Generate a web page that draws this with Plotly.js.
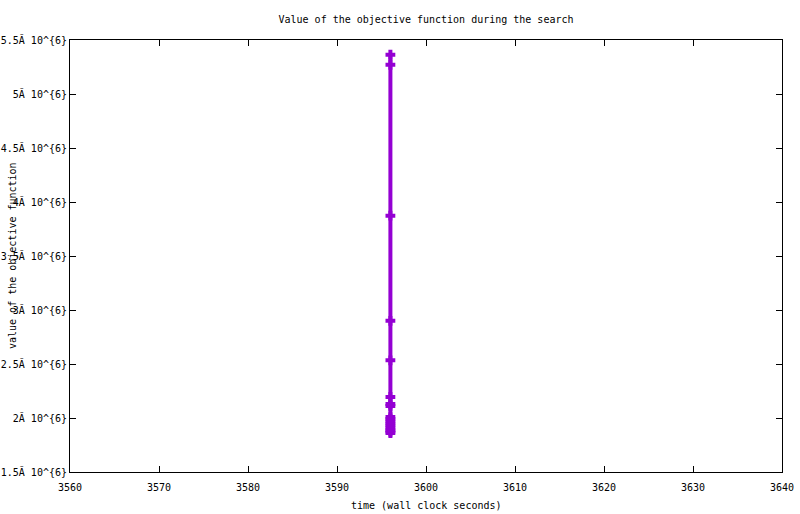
<!DOCTYPE html>
<html>
<head>
<meta charset="utf-8">
<script src="https://cdn.plot.ly/plotly-3.0.1.min.js"></script>
<style>
    body { margin: 0; background: #fff; }
    #chart { width: 800px; height: 514px; }
</style>
</head>
<body>
<div id="chart"></div>
<script>
// wall clock time of each improvement (s)
const times = [3596.0, 3596.0, 3596.0, 3596.0, 3596.0, 3596.0, 3596.0, 3596.0,
    3596.0, 3596.0, 3596.0, 3596.0, 3596.0, 3596.0, 3596.0, 3596.0, 3596.0];
// objective value at that time
const objective = [5364000, 5271000, 3873000, 2900000, 2534000, 2195000, 2130000, 2112000,
    2009000, 1990000, 1970000, 1950000, 1930000, 1910000, 1890000, 1875000, 1861000];

const yTickVals = [1500000, 2000000, 2500000, 3000000, 3500000, 4000000, 4500000, 5000000, 5500000];
const yTickText = ['1.5Ă 10^{6}', '2Ă 10^{6}', '2.5Ă 10^{6}', '3Ă 10^{6}', '3.5Ă 10^{6}',
    '4Ă 10^{6}', '4.5Ă 10^{6}', '5Ă 10^{6}', '5.5Ă 10^{6}'];
const xTickVals = [3560, 3570, 3580, 3590, 3600, 3610, 3620, 3630, 3640];

const font = { family: 'DejaVu Sans Mono, monospace', size: 10, color: '#000' };

window.onload = () => {
    const trace = {
        x: times,
        y: objective,
        type: 'scatter',
        mode: 'lines+markers',
        line: { color: '#9400d3', width: 4 },
        marker: {
            symbol: 'cross-thin',
            size: 7,
            color: '#9400d3',
            line: { color: '#9400d3', width: 4 }
        },
        showlegend: false,
        hoverinfo: 'x+y'
    };

    const axisStyle = {
        showline: true,
        linecolor: '#000',
        linewidth: 1,
        mirror: 'allticks',
        ticks: 'inside',
        ticklen: 6,
        tickcolor: '#000',
        showgrid: false,
        zeroline: false,
        tickfont: font
    };

    const layout = {
        width: 800,
        height: 514,
        margin: { l: 70, r: 18, t: 40, b: 42 },
        paper_bgcolor: '#fff',
        plot_bgcolor: '#fff',
        font: font,
        title: {
            text: 'Value of the objective function during the search',
            font: font,
            x: 0.5,
            xref: 'paper',
            y: 1 - 19 / 514,
            yanchor: 'middle'
        },
        xaxis: Object.assign({}, axisStyle, {
            range: [3560, 3640],
            tickvals: xTickVals,
            ticktext: xTickVals.map(String),
            ticklabelstandoff: 6
        }),
        yaxis: Object.assign({}, axisStyle, {
            range: [1500000, 5500000],
            tickvals: yTickVals,
            ticktext: yTickText
        }),
        annotations: [
            {
                text: 'time (wall clock seconds)',
                xref: 'paper', yref: 'paper',
                x: 0.5, y: -33 / 432,
                xanchor: 'center', yanchor: 'middle',
                showarrow: false,
                font: font
            },
            {
                text: 'value of the objective function',
                xref: 'paper', yref: 'paper',
                x: -58 / 712, y: 0.5,
                xanchor: 'center', yanchor: 'middle',
                textangle: -90,
                showarrow: false,
                font: font
            }
        ]
    };

    Plotly.newPlot('chart', [trace], layout, { displayModeBar: false, staticPlot: true });
};
</script>
</body>
</html>
